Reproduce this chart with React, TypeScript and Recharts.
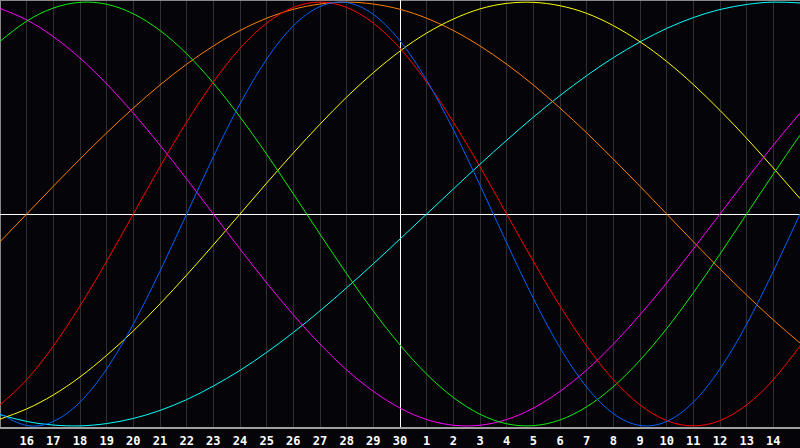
import React from 'react';
import { LineChart, Line, XAxis, YAxis, CartesianGrid, ReferenceLine } from 'recharts';

// day of month under each column, from the 15th to the 15th of next month
const dayLabels = [
  '15', '16', '17', '18', '19', '20', '21', '22', '23', '24', '25', '26', '27', '28', '29', '30',
  '1', '2', '3', '4', '5', '6', '7', '8', '9', '10', '11', '12', '13', '14', '15',
];

// cycle values in percent, one per day
const physical = [-94.2, -99.8, -97.9, -88.8, -73.1, -52.0, -27.0, 0, 27.0, 52.0, 73.1, 88.8, 97.9, 99.8, 94.2, 81.7, 63.1, 39.8, 13.6, -13.6, -39.8, -63.1, -81.7, -94.2, -99.8, -97.9, -88.8, -73.1, -52.0, -27.0, 0];
const emotional = [-90.1, -78.2, -62.3, -43.4, -22.3, 0, 22.3, 43.4, 62.3, 78.2, 90.1, 97.5, 100, 97.5, 90.1, 78.2, 62.3, 43.4, 22.3, 0, -22.3, -43.4, -62.3, -78.2, -90.1, -97.5, -100, -97.5, -90.1, -78.2, -62.3];
const intellectual = [81.5, 91.0, 97.2, 99.9, 99.0, 94.5, 86.6, 75.6, 61.8, 45.8, 28.2, 9.5, -9.5, -28.2, -45.8, -61.8, -75.6, -86.6, -94.5, -99.0, -99.9, -97.2, -91.0, -81.5, -69.0, -54.1, -37.2, -18.9, 0, 18.9, 37.2];
const intuitive = [97.0, 91.6, 83.7, 73.6, 61.4, 47.6, 32.5, 16.5, 0, -16.5, -32.5, -47.6, -61.4, -73.6, -83.7, -91.6, -97.0, -99.7, -99.7, -97.0, -91.6, -83.7, -73.6, -61.4, -47.6, -32.5, -16.5, 0, 16.5, 32.5, 47.6];
const aesthetic = [-96.8, -92.0, -85.4, -76.9, -66.7, -55.2, -42.4, -28.8, -14.6, 0, 14.6, 28.8, 42.4, 55.2, 66.7, 76.9, 85.4, 92.0, 96.8, 99.4, 99.9, 98.3, 94.7, 88.9, 81.3, 72.0, 61.1, 48.9, 35.7, 21.7, 7.3];
const awareness = [-13.1, 0, 13.1, 25.9, 38.3, 50.0, 60.9, 70.7, 79.3, 86.6, 92.4, 96.6, 99.1, 100, 99.1, 96.6, 92.4, 86.6, 79.3, 70.7, 60.9, 50.0, 38.3, 25.9, 13.1, 0, -13.1, -25.9, -38.3, -50.0, -60.9];
const spiritual = [-94.7, -97.9, -99.6, -100.0, -98.9, -96.5, -92.7, -87.6, -81.2, -73.8, -65.3, -55.9, -45.7, -34.8, -23.5, -11.8, 0, 11.8, 23.5, 34.8, 45.7, 55.9, 65.3, 73.8, 81.2, 87.6, 92.7, 96.5, 98.9, 100.0, 99.6];

const data = dayLabels.map((day, i) => ({
  i,
  day,
  physical: physical[i],
  emotional: emotional[i],
  intellectual: intellectual[i],
  intuitive: intuitive[i],
  aesthetic: aesthetic[i],
  awareness: awareness[i],
  spiritual: spiritual[i],
}));

const tickIdx = dayLabels.map((_, i) => i).slice(1, dayLabels.length - 1);
const TODAY = 15;

const series = [
  { key: 'spiritual', color: '#00ffff' },
  { key: 'awareness', color: '#ff8000' },
  { key: 'aesthetic', color: '#ffff00' },
  { key: 'intuitive', color: '#ff00ff' },
  { key: 'intellectual', color: '#10ee10' },
  { key: 'emotional', color: '#ff0000' },
  { key: 'physical', color: '#0060ff' },
];

const App: React.FC = () => {
  return (
    <div style={{ position: 'absolute', left: 0, top: 0, width: 800, height: 448, background: '#050408' }}>
      <LineChart width={800} height={448} data={data} margin={{ top: 0, right: 0, left: 0, bottom: 0 }}>
        <CartesianGrid horizontal={false} stroke="#303030" shapeRendering="crispEdges" />
        <XAxis
          dataKey="i"
          type="number"
          domain={[0, 30]}
          ticks={tickIdx}
          interval={0}
          tickFormatter={(v: number) => dayLabels[v]}
          height={20}
          tickLine={false}
          axisLine={{ stroke: '#a0a0a0', strokeWidth: 2 }}
          tick={{ fill: '#ffffff', fontSize: 12, fontWeight: 'bold', fontFamily: 'DejaVu Sans Mono' }}
        />
        <YAxis type="number" domain={[-101, 101]} hide />
        <ReferenceLine x={0} stroke="#888888" strokeWidth={2} />
        <ReferenceLine y={101} stroke="#888888" strokeWidth={2} />
        <ReferenceLine x={TODAY} stroke="#ffffff" shapeRendering="crispEdges" />
        <ReferenceLine y={0} stroke="#ffffff" shapeRendering="crispEdges" />
        {series.map((s) => (
          <Line
            key={s.key}
            dataKey={s.key}
            type="natural"
            stroke={s.color}
            strokeWidth={1}
            dot={false}
            activeDot={false}
            isAnimationActive={false}
          />
        ))}
      </LineChart>
    </div>
  );
};

export default App;
